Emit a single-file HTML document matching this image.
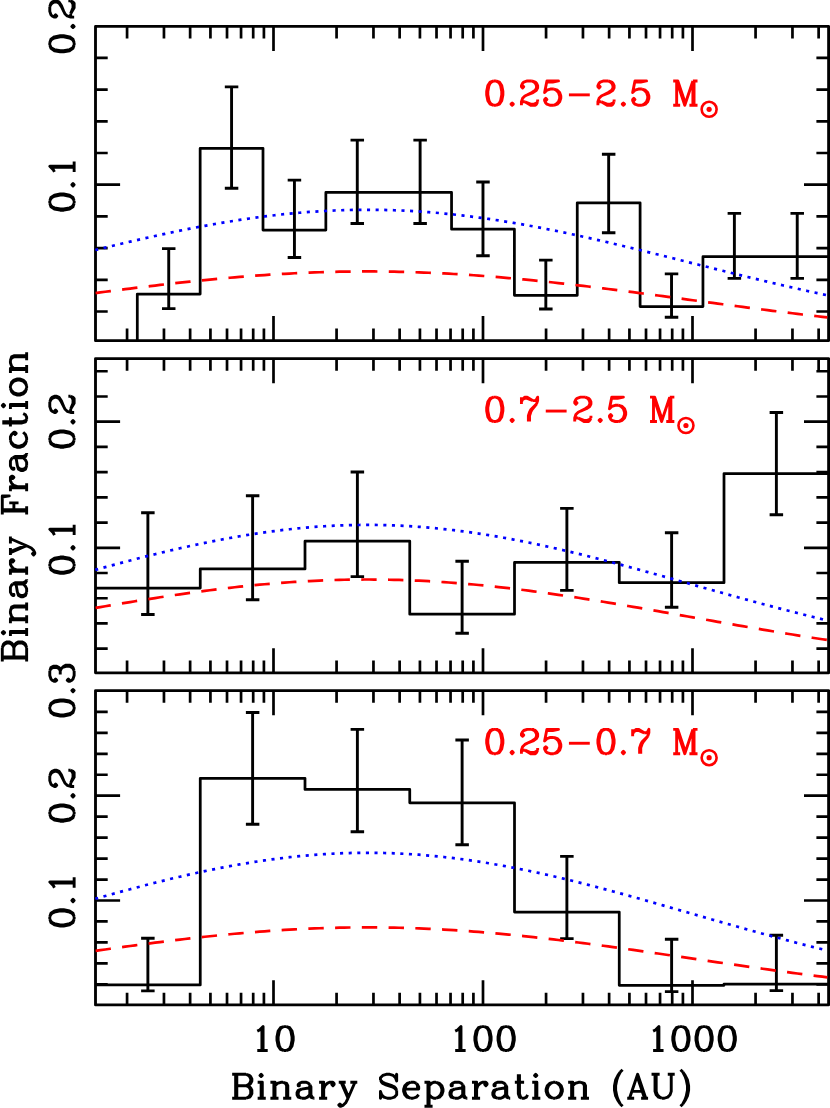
<!DOCTYPE html>
<html><head><meta charset="utf-8"><title>Binary Fraction vs Separation</title>
<style>html,body{margin:0;padding:0;background:#fff;font-family:"Liberation Sans",sans-serif}svg{display:block}.t{fill:none;stroke-linejoin:round;stroke-linecap:butt}</style></head>
<body><svg width="830" height="1108" viewBox="0 0 830 1108" style="display:block"><defs><g><path id="g0" d="M9,-21 6,-20 4,-17 3,-12 3,-9 4,-4 6,-1 9,0M9,-21 7,-20 6,-19 5,-17 4,-12 4,-9 5,-4 6,-2 7,-1 9,0M9,-21 11,-21M9,0 11,0M11,-21 14,-20 16,-17 17,-12 17,-9 16,-4 14,-1 11,0M11,-21 13,-20 14,-19 15,-17 16,-12 16,-9 15,-4 14,-2 13,-1 11,0"/><path id="g1" d="M5,-2 4,-1 5,0 6,-1Z"/><path id="g2" d="M3,-2 4,-3 6,-3M3,0 3,-3 4,-6 6,-8 12,-11 15,-13 16,-15 16,-17 15,-19 14,-20 12,-21M4,-17 5,-16 4,-15 3,-16 3,-17 4,-19 5,-20 8,-21 12,-21M6,-3 11,0 15,0 16,-1 17,-3M6,-3 11,-1 14,-1 16,-2 17,-3M8,-9 13,-11 16,-13 17,-15 17,-17 16,-19 15,-20 12,-21M17,-5 17,-3"/><path id="g3" d="M4,-4 5,-5 4,-6 3,-5 3,-4 4,-2 5,-1 8,0 11,0M5,-20 10,-20 15,-21 5,-21 3,-11 5,-13 8,-14 11,-14M11,-14 14,-13 16,-11 17,-8 17,-6 16,-3 14,-1 11,0M11,-14 13,-13 15,-11 16,-8 16,-6 15,-3 13,-1 11,0"/><path id="g4" d="M4,-9 22,-9"/><path id="g5" d="M2,-21 6,-21 12,-3M2,0 8,0M5,0 5,-21 12,0 19,-21M16,0 23,0M19,-21 19,0M19,-21 23,-21M20,-21 20,0"/><path id="g6" d="M3,-21 3,-15M3,-17 4,-19M4,-19 6,-21 8,-21 13,-18M4,-19 6,-20 8,-20 13,-18M9,0 9,-5 10,-8 11,-10 16,-15M10,0 10,-5 11,-8 12,-10 16,-15M13,-18 15,-18 16,-19 17,-21 17,-18 16,-15"/><path id="g7" d="M6,-17 8,-18 11,-21 11,0M6,0 15,0M10,-20 10,0"/><path id="g8" d="M2,-21 14,-21M2,0 14,0M5,-21 5,0M6,-21 6,0M6,-11 14,-11M14,-21 17,-20 18,-19 19,-17 19,-15 18,-13 17,-12 14,-11M14,-21 16,-20 17,-19 18,-17 18,-15 17,-13 16,-12 14,-11M14,-11 17,-10 18,-9 19,-7 19,-4 18,-2 17,-1 14,0M14,-11 16,-10 17,-9 18,-7 18,-4 17,-2 16,-1 14,0"/><path id="g9" d="M2,-14 6,-14 6,0M2,0 9,0M5,-14 5,0M5,-21 4,-20 5,-19 6,-20Z"/><path id="g10" d="M2,-14 6,-14 6,0M2,0 9,0M5,-14 5,0M6,-11 8,-13 11,-14 13,-14M13,-14 16,-13 17,-11 17,0M13,-14 15,-13 16,-11 16,0M13,0 20,0"/><path id="g11" d="M5,-12 5,-11 4,-11 4,-12 5,-13 7,-14 11,-14 13,-13 14,-12M7,-8 13,-9 14,-10M7,-8 4,-7 3,-5 3,-3 4,-1 7,0M7,-8 5,-7 4,-5 4,-3 5,-1 7,0M7,0 10,0 12,-1 14,-3M14,-12 14,-3M14,-12 15,-10 15,-3 16,-1 17,0M14,-3 15,-1 17,0M17,0 18,0"/><path id="g12" d="M2,-14 6,-14 6,0M2,0 9,0M5,-14 5,0M6,-8 7,-11 9,-13 11,-14 14,-14 15,-13 15,-12 14,-11 13,-12 14,-13"/><path id="g13" d="M2,-14 8,-14M4,-14 10,0M4,6 3,5 2,6 3,7 4,7 6,6 8,4 10,0M5,-14 10,-2M10,0 16,-14M12,-14 18,-14"/><path id="g14" d="M3,-16 5,-14 7,-13 13,-11 15,-10 16,-9 17,-7M3,-16 4,-14 5,-13 7,-12 13,-10 15,-9 17,-7M3,-16 3,-18 5,-20 8,-21 11,-21 14,-20 16,-18M4,-3 3,-6 3,0ZM4,-3 6,-1 9,0 12,0 15,-1 17,-3 17,-7M16,-18 17,-21 17,-15Z"/><path id="g15" d="M4,-8 16,-8 16,-10 15,-12 14,-13M4,-8 5,-11 7,-13 9,-14M4,-8 4,-6 5,-3 7,-1 9,0M9,-14 6,-13 4,-11 3,-8 3,-6 4,-3 6,-1 9,0M9,-14 12,-14 14,-13M9,0 11,0 14,-1 16,-3M14,-13 15,-11 15,-8"/><path id="g16" d="M2,-14 6,-14 6,7M2,7 9,7M5,-14 5,7M6,-11 8,-13 10,-14 12,-14M6,-3 8,-1 10,0 12,0M12,-14 15,-13 17,-11 18,-8 18,-6 17,-3 15,-1 12,0M12,-14 14,-13 16,-11 17,-8 17,-6 16,-3 14,-1 12,0"/><path id="g17" d="M2,-14 10,-14M5,-21 5,-4 6,-1 8,0M6,-21 6,-4 7,-1 8,0M8,0 10,0 12,-1 13,-3"/><path id="g18" d="M9,-14 6,-13 4,-11 3,-8 3,-6 4,-3 6,-1 9,0M9,-14 7,-13 5,-11 4,-8 4,-6 5,-3 7,-1 9,0M9,-14 11,-14M9,0 11,0M11,-14 14,-13 16,-11 17,-8 17,-6 16,-3 14,-1 11,0M11,-14 13,-13 15,-11 16,-8 16,-6 15,-3 13,-1 11,0"/><path id="g19" d="M9,-23 7,-19 6,-16 5,-11 5,-7 6,-2 7,1 9,5M9,-23 7,-20 5,-16 4,-11 4,-7 5,-2 7,2 9,5M9,-23 11,-25M9,5 11,7"/><path id="g20" d="M1,0 7,0M3,0 10,-21 17,0M5,-6 14,-6M10,-18 16,0M13,0 19,0"/><path id="g21" d="M2,-21 9,-21M5,-21 5,-6 6,-3 8,-1 11,0M6,-21 6,-6 7,-3 9,-1 11,0M11,0 13,0 16,-1 18,-3 19,-6 19,-21M16,-21 22,-21"/><path id="g22" d="M3,-25 5,-23M3,7 5,5M5,-23 7,-19 8,-16 9,-11 9,-7 8,-2 7,1 5,5M5,-23 7,-20 9,-16 10,-11 10,-7 9,-2 7,2 5,5"/><path id="g23" d="M4,-17 5,-16 4,-15 3,-16 3,-17 4,-19 5,-20 8,-21 12,-21M4,-4 5,-5 4,-6 3,-5 3,-4 4,-2 5,-1 8,0 12,0M9,-12 12,-12M12,-21 15,-20 16,-18 16,-15 15,-13 12,-12M12,-21 14,-20 15,-18 15,-15 14,-13 12,-12M12,-12 14,-11 16,-9 17,-7 17,-4 16,-2 15,-1 12,0M12,0 14,-1 15,-2 16,-4 16,-7 15,-10"/><path id="g24" d="M2,-21 18,-21 18,-15 17,-21M2,0 9,0M5,-21 5,0M6,-21 6,0M6,-11 12,-11M12,-15 12,-7"/><path id="g25" d="M9,-14 6,-13 4,-11 3,-8 3,-6 4,-3 6,-1 9,0M9,-14 12,-14 14,-13 16,-11 16,-10 15,-9 14,-10 15,-11M9,-14 7,-13 5,-11 4,-8 4,-6 5,-3 7,-1 9,0M9,0 11,0 14,-1 16,-3"/></g></defs><rect width="830" height="1108" fill="#fff"/><path d="M137.3,340.7 L137.3,294.1 L200.15,294.1 L200.15,148.3 L263,148.3 L263,230 L325.85,230 L325.85,192.4 L388.7,192.4 L388.7,192.4 L451.55,192.4 L451.55,229.2 L514.4,229.2 L514.4,295.3 L577.25,295.3 L577.25,202.8 L640.1,202.8 L640.1,306.6 L702.95,306.6 L702.95,256.7 L765.8,256.7 L765.8,256.7 L828.6,256.7" fill="none" stroke="#000" stroke-width="2.75" stroke-linejoin="round"/>
<path d="M168.73,248.6V308.6M161.98,248.6H175.48M161.98,308.6H175.48M231.57,86.9V188.3M224.82,86.9H238.32M224.82,188.3H238.32M294.43,180.1V257.5M287.68,180.1H301.18M287.68,257.5H301.18M357.28,140.1V223.5M350.53,140.1H364.03M350.53,223.5H364.03M420.12,140.1V223.5M413.38,140.1H426.88M413.38,223.5H426.88M482.98,182V255.8M476.23,182H489.73M476.23,255.8H489.73M545.83,260.1V309M539.08,260.1H552.58M539.08,309H552.58M608.67,154.3V232.7M601.92,154.3H615.42M601.92,232.7H615.42M671.53,273.9V317.2M664.78,273.9H678.28M664.78,317.2H678.28M734.38,213.4V278.4M727.62,213.4H741.12M727.62,278.4H741.12M797.23,213.4V278.4M790.48,213.4H803.98M790.48,278.4H803.98" fill="none" stroke="#000" stroke-width="2.9"/>
<path d="M127.07,26.4v12.2M127.07,340.7v-12.2M163.96,26.4v12.2M163.96,340.7v-12.2M190.13,26.4v12.2M190.13,340.7v-12.2M210.43,26.4v12.2M210.43,340.7v-12.2M227.02,26.4v12.2M227.02,340.7v-12.2M241.05,26.4v12.2M241.05,340.7v-12.2M253.2,26.4v12.2M253.2,340.7v-12.2M263.91,26.4v12.2M263.91,340.7v-12.2M273.5,26.4v24.6M273.5,340.7v-24.6M336.57,26.4v12.2M336.57,340.7v-12.2M373.46,26.4v12.2M373.46,340.7v-12.2M399.63,26.4v12.2M399.63,340.7v-12.2M419.93,26.4v12.2M419.93,340.7v-12.2M436.52,26.4v12.2M436.52,340.7v-12.2M450.55,26.4v12.2M450.55,340.7v-12.2M462.7,26.4v12.2M462.7,340.7v-12.2M473.41,26.4v12.2M473.41,340.7v-12.2M483,26.4v24.6M483,340.7v-24.6M546.07,26.4v12.2M546.07,340.7v-12.2M582.96,26.4v12.2M582.96,340.7v-12.2M609.13,26.4v12.2M609.13,340.7v-12.2M629.43,26.4v12.2M629.43,340.7v-12.2M646.02,26.4v12.2M646.02,340.7v-12.2M660.05,26.4v12.2M660.05,340.7v-12.2M672.2,26.4v12.2M672.2,340.7v-12.2M682.91,26.4v12.2M682.91,340.7v-12.2M692.5,26.4v24.6M692.5,340.7v-24.6M755.57,26.4v12.2M755.57,340.7v-12.2M792.46,26.4v12.2M792.46,340.7v-12.2M818.63,26.4v12.2M818.63,340.7v-12.2M95.5,57.9h12.2M828.6,57.9h-12.2M95.5,89.6h12.2M828.6,89.6h-12.2M95.5,121.3h12.2M828.6,121.3h-12.2M95.5,153h12.2M828.6,153h-12.2M95.5,184.7h24.6M828.6,184.7h-24.6M95.5,216.4h12.2M828.6,216.4h-12.2M95.5,248.1h12.2M828.6,248.1h-12.2M95.5,279.8h12.2M828.6,279.8h-12.2M95.5,311.5h12.2M828.6,311.5h-12.2" fill="none" stroke="#000" stroke-width="2.7"/>
<rect x="95.5" y="26.4" width="733.1" height="314.3" fill="none" stroke="#000" stroke-width="2.85" stroke-linejoin="round"/>
<path d="M95.3,293.09 L100.28,292.43 L105.26,291.78 L110.24,291.13 L115.22,290.49 L120.2,289.85 L125.18,289.21 L130.16,288.59 L135.14,287.96 L140.12,287.35 L145.1,286.74 L150.08,286.14 L155.06,285.54 L160.03,284.95 L165.01,284.37 L169.99,283.8 L174.97,283.24 L179.95,282.69 L184.93,282.15 L189.91,281.61 L194.89,281.09 L199.87,280.58 L204.85,280.08 L209.83,279.59 L214.81,279.11 L219.79,278.64 L224.77,278.19 L229.75,277.75 L234.73,277.32 L239.71,276.9 L244.69,276.5 L249.67,276.11 L254.65,275.74 L259.63,275.38 L264.61,275.03 L269.59,274.7 L274.57,274.39 L279.54,274.08 L284.52,273.8 L289.5,273.53 L294.48,273.27 L299.46,273.04 L304.44,272.81 L309.42,272.61 L314.4,272.42 L319.38,272.24 L324.36,272.09 L329.34,271.95 L334.32,271.82 L339.3,271.72 L344.28,271.63 L349.26,271.56 L354.24,271.5 L359.22,271.47 L364.2,271.45 L369.18,271.44 L374.16,271.46 L379.14,271.49 L384.12,271.54 L389.1,271.6 L394.08,271.69 L399.06,271.79 L404.03,271.9 L409.01,272.04 L413.99,272.19 L418.97,272.36 L423.95,272.54 L428.93,272.74 L433.91,272.96 L438.89,273.19 L443.87,273.44 L448.85,273.7 L453.83,273.99 L458.81,274.28 L463.79,274.59 L468.77,274.92 L473.75,275.26 L478.73,275.61 L483.71,275.98 L488.69,276.37 L493.67,276.77 L498.65,277.18 L503.63,277.6 L508.61,278.04 L513.59,278.49 L518.57,278.95 L523.54,279.42 L528.52,279.91 L533.5,280.41 L538.48,280.92 L543.46,281.44 L548.44,281.96 L553.42,282.5 L558.4,283.05 L563.38,283.61 L568.36,284.18 L573.34,284.76 L578.32,285.34 L583.3,285.93 L588.28,286.53 L593.26,287.14 L598.24,287.75 L603.22,288.37 L608.2,289 L613.18,289.63 L618.16,290.27 L623.14,290.91 L628.12,291.56 L633.1,292.21 L638.08,292.87 L643.06,293.53 L648.03,294.19 L653.01,294.85 L657.99,295.52 L662.97,296.19 L667.95,296.86 L672.93,297.53 L677.91,298.21 L682.89,298.88 L687.87,299.55 L692.85,300.23 L697.83,300.9 L702.81,301.58 L707.79,302.25 L712.77,302.92 L717.75,303.59 L722.73,304.26 L727.71,304.93 L732.69,305.59 L737.67,306.25 L742.65,306.91 L747.63,307.57 L752.61,308.22 L757.59,308.87 L762.57,309.51 L767.54,310.15 L772.52,310.79 L777.5,311.42 L782.48,312.04 L787.46,312.66 L792.44,313.28 L797.42,313.89 L802.4,314.5 L807.38,315.1 L812.36,315.69 L817.34,316.28 L822.32,316.86 L827.3,317.43" fill="none" stroke="#f00" stroke-width="2.7" stroke-dasharray="15.4 11.35" stroke-dashoffset="-0.3"/>
<path d="M95.3,250.03 L100.28,248.81 L105.26,247.6 L110.24,246.39 L115.22,245.19 L120.2,244.01 L125.18,242.83 L130.16,241.66 L135.14,240.5 L140.12,239.36 L145.1,238.22 L150.08,237.1 L155.06,236 L160.03,234.9 L165.01,233.83 L169.99,232.77 L174.97,231.72 L179.95,230.69 L184.93,229.69 L189.91,228.69 L194.89,227.72 L199.87,226.77 L204.85,225.84 L209.83,224.93 L214.81,224.04 L219.79,223.17 L224.77,222.33 L229.75,221.51 L234.73,220.71 L239.71,219.94 L244.69,219.19 L249.67,218.47 L254.65,217.77 L259.63,217.1 L264.61,216.46 L269.59,215.84 L274.57,215.25 L279.54,214.69 L284.52,214.16 L289.5,213.66 L294.48,213.19 L299.46,212.74 L304.44,212.33 L309.42,211.95 L314.4,211.59 L319.38,211.27 L324.36,210.98 L329.34,210.72 L334.32,210.49 L339.3,210.3 L344.28,210.13 L349.26,210 L354.24,209.9 L359.22,209.83 L364.2,209.79 L369.18,209.78 L374.16,209.81 L379.14,209.87 L384.12,209.96 L389.1,210.08 L394.08,210.24 L399.06,210.42 L404.03,210.64 L409.01,210.89 L413.99,211.17 L418.97,211.48 L423.95,211.82 L428.93,212.2 L433.91,212.6 L438.89,213.03 L443.87,213.5 L448.85,213.99 L453.83,214.51 L458.81,215.06 L463.79,215.64 L468.77,216.25 L473.75,216.88 L478.73,217.54 L483.71,218.23 L488.69,218.94 L493.67,219.68 L498.65,220.44 L503.63,221.23 L508.61,222.05 L513.59,222.88 L518.57,223.74 L523.54,224.62 L528.52,225.53 L533.5,226.45 L538.48,227.4 L543.46,228.36 L548.44,229.35 L553.42,230.35 L558.4,231.37 L563.38,232.41 L568.36,233.46 L573.34,234.54 L578.32,235.62 L583.3,236.72 L588.28,237.84 L593.26,238.97 L598.24,240.11 L603.22,241.26 L608.2,242.43 L613.18,243.6 L618.16,244.79 L623.14,245.98 L628.12,247.19 L633.1,248.4 L638.08,249.62 L643.06,250.84 L648.03,252.07 L653.01,253.31 L657.99,254.55 L662.97,255.79 L667.95,257.04 L672.93,258.29 L677.91,259.54 L682.89,260.8 L687.87,262.05 L692.85,263.3 L697.83,264.56 L702.81,265.81 L707.79,267.06 L712.77,268.31 L717.75,269.56 L722.73,270.8 L727.71,272.04 L732.69,273.27 L737.67,274.5 L742.65,275.73 L747.63,276.94 L752.61,278.16 L757.59,279.36 L762.57,280.56 L767.54,281.75 L772.52,282.93 L777.5,284.11 L782.48,285.27 L787.46,286.42 L792.44,287.57 L797.42,288.71 L802.4,289.83 L807.38,290.95 L812.36,292.05 L817.34,293.14 L822.32,294.22 L827.3,295.29" fill="none" stroke="#00f" stroke-width="2.7" stroke-dasharray="3.1 5.51" stroke-dashoffset="0.15"/>
<g class="t" stroke="#f00" stroke-width="2.502" transform="translate(483.2,105.3) scale(1.1585,1.16)"><use href="#g0" x="0"/><use href="#g1" x="20"/><use href="#g2" x="30"/><use href="#g3" x="50"/><use href="#g4" x="70"/><use href="#g2" x="96"/><use href="#g1" x="116"/><use href="#g3" x="126"/><use href="#g5" x="162"/></g>
<path d="M95.5,588 L200.25,588 L200.25,568.9 L305,568.9 L305,541.2 L409.75,541.2 L409.75,614.2 L514.5,614.2 L514.5,562.4 L619.25,562.4 L619.25,582.7 L724,582.7 L724,473.5 L828.6,473.5" fill="none" stroke="#000" stroke-width="2.75" stroke-linejoin="round"/>
<path d="M147.88,512.8V614.5M141.12,512.8H154.62M141.12,614.5H154.62M252.62,495.7V599.8M245.88,495.7H259.38M245.88,599.8H259.38M357.38,472V576.6M350.62,472H364.12M350.62,576.6H364.12M462.12,561.2V633.3M455.38,561.2H468.88M455.38,633.3H468.88M566.88,508.4V590.4M560.12,508.4H573.62M560.12,590.4H573.62M671.62,532.8V607.2M664.88,532.8H678.38M664.88,607.2H678.38M776.38,412.5V514.7M769.62,412.5H783.12M769.62,514.7H783.12" fill="none" stroke="#000" stroke-width="2.9"/>
<path d="M127.07,358.6v12.2M127.07,672.8v-12.2M163.96,358.6v12.2M163.96,672.8v-12.2M190.13,358.6v12.2M190.13,672.8v-12.2M210.43,358.6v12.2M210.43,672.8v-12.2M227.02,358.6v12.2M227.02,672.8v-12.2M241.05,358.6v12.2M241.05,672.8v-12.2M253.2,358.6v12.2M253.2,672.8v-12.2M263.91,358.6v12.2M263.91,672.8v-12.2M273.5,358.6v24.6M273.5,672.8v-24.6M336.57,358.6v12.2M336.57,672.8v-12.2M373.46,358.6v12.2M373.46,672.8v-12.2M399.63,358.6v12.2M399.63,672.8v-12.2M419.93,358.6v12.2M419.93,672.8v-12.2M436.52,358.6v12.2M436.52,672.8v-12.2M450.55,358.6v12.2M450.55,672.8v-12.2M462.7,358.6v12.2M462.7,672.8v-12.2M473.41,358.6v12.2M473.41,672.8v-12.2M483,358.6v24.6M483,672.8v-24.6M546.07,358.6v12.2M546.07,672.8v-12.2M582.96,358.6v12.2M582.96,672.8v-12.2M609.13,358.6v12.2M609.13,672.8v-12.2M629.43,358.6v12.2M629.43,672.8v-12.2M646.02,358.6v12.2M646.02,672.8v-12.2M660.05,358.6v12.2M660.05,672.8v-12.2M672.2,358.6v12.2M672.2,672.8v-12.2M682.91,358.6v12.2M682.91,672.8v-12.2M692.5,358.6v24.6M692.5,672.8v-24.6M755.57,358.6v12.2M755.57,672.8v-12.2M792.46,358.6v12.2M792.46,672.8v-12.2M818.63,358.6v12.2M818.63,672.8v-12.2M95.5,371.26h12.2M828.6,371.26h-12.2M95.5,396.48h12.2M828.6,396.48h-12.2M95.5,421.7h24.6M828.6,421.7h-24.6M95.5,446.92h12.2M828.6,446.92h-12.2M95.5,472.14h12.2M828.6,472.14h-12.2M95.5,497.36h12.2M828.6,497.36h-12.2M95.5,522.58h12.2M828.6,522.58h-12.2M95.5,547.8h24.6M828.6,547.8h-24.6M95.5,573.02h12.2M828.6,573.02h-12.2M95.5,598.24h12.2M828.6,598.24h-12.2M95.5,623.46h12.2M828.6,623.46h-12.2M95.5,648.68h12.2M828.6,648.68h-12.2" fill="none" stroke="#000" stroke-width="2.7"/>
<rect x="95.5" y="358.6" width="733.1" height="314.2" fill="none" stroke="#000" stroke-width="2.85" stroke-linejoin="round"/>
<path d="M95.3,607.99 L100.28,607.12 L105.26,606.27 L110.24,605.41 L115.22,604.57 L120.2,603.73 L125.18,602.89 L130.16,602.06 L135.14,601.25 L140.12,600.44 L145.1,599.63 L150.08,598.84 L155.06,598.06 L160.03,597.29 L165.01,596.52 L169.99,595.77 L174.97,595.03 L179.95,594.31 L184.93,593.59 L189.91,592.89 L194.89,592.21 L199.87,591.53 L204.85,590.87 L209.83,590.23 L214.81,589.6 L219.79,588.99 L224.77,588.39 L229.75,587.81 L234.73,587.24 L239.71,586.7 L244.69,586.17 L249.67,585.66 L254.65,585.17 L259.63,584.69 L264.61,584.24 L269.59,583.8 L274.57,583.38 L279.54,582.99 L284.52,582.61 L289.5,582.26 L294.48,581.92 L299.46,581.61 L304.44,581.32 L309.42,581.05 L314.4,580.8 L319.38,580.57 L324.36,580.36 L329.34,580.18 L334.32,580.02 L339.3,579.88 L344.28,579.76 L349.26,579.67 L354.24,579.59 L359.22,579.55 L364.2,579.52 L369.18,579.52 L374.16,579.53 L379.14,579.58 L384.12,579.64 L389.1,579.73 L394.08,579.84 L399.06,579.97 L404.03,580.12 L409.01,580.3 L413.99,580.5 L418.97,580.72 L423.95,580.96 L428.93,581.22 L433.91,581.51 L438.89,581.81 L443.87,582.14 L448.85,582.49 L453.83,582.86 L458.81,583.25 L463.79,583.66 L468.77,584.09 L473.75,584.53 L478.73,585 L483.71,585.49 L488.69,585.99 L493.67,586.52 L498.65,587.06 L503.63,587.61 L508.61,588.19 L513.59,588.78 L518.57,589.39 L523.54,590.01 L528.52,590.65 L533.5,591.31 L538.48,591.97 L543.46,592.66 L548.44,593.35 L553.42,594.06 L558.4,594.79 L563.38,595.52 L568.36,596.27 L573.34,597.03 L578.32,597.79 L583.3,598.57 L588.28,599.36 L593.26,600.16 L598.24,600.97 L603.22,601.78 L608.2,602.61 L613.18,603.44 L618.16,604.28 L623.14,605.12 L628.12,605.98 L633.1,606.83 L638.08,607.69 L643.06,608.56 L648.03,609.43 L653.01,610.31 L657.99,611.18 L662.97,612.06 L667.95,612.95 L672.93,613.83 L677.91,614.72 L682.89,615.6 L687.87,616.49 L692.85,617.38 L697.83,618.26 L702.81,619.15 L707.79,620.04 L712.77,620.92 L717.75,621.8 L722.73,622.68 L727.71,623.56 L732.69,624.43 L737.67,625.3 L742.65,626.17 L747.63,627.03 L752.61,627.89 L757.59,628.74 L762.57,629.59 L767.54,630.43 L772.52,631.26 L777.5,632.09 L782.48,632.92 L787.46,633.73 L792.44,634.54 L797.42,635.35 L802.4,636.14 L807.38,636.93 L812.36,637.71 L817.34,638.49 L822.32,639.25 L827.3,640.01" fill="none" stroke="#f00" stroke-width="2.7" stroke-dasharray="15.4 11.35" stroke-dashoffset="-0.3"/>
<path d="M95.3,569.87 L100.28,568.51 L105.26,567.15 L110.24,565.81 L115.22,564.47 L120.2,563.14 L125.18,561.83 L130.16,560.52 L135.14,559.23 L140.12,557.95 L145.1,556.68 L150.08,555.43 L155.06,554.2 L160.03,552.98 L165.01,551.78 L169.99,550.59 L174.97,549.43 L179.95,548.28 L184.93,547.15 L189.91,546.05 L194.89,544.96 L199.87,543.9 L204.85,542.86 L209.83,541.84 L214.81,540.85 L219.79,539.88 L224.77,538.94 L229.75,538.02 L234.73,537.13 L239.71,536.27 L244.69,535.43 L249.67,534.63 L254.65,533.85 L259.63,533.1 L264.61,532.38 L269.59,531.7 L274.57,531.04 L279.54,530.41 L284.52,529.82 L289.5,529.26 L294.48,528.73 L299.46,528.24 L304.44,527.77 L309.42,527.35 L314.4,526.95 L319.38,526.59 L324.36,526.27 L329.34,525.98 L334.32,525.72 L339.3,525.5 L344.28,525.32 L349.26,525.17 L354.24,525.06 L359.22,524.98 L364.2,524.94 L369.18,524.93 L374.16,524.96 L379.14,525.03 L384.12,525.13 L389.1,525.26 L394.08,525.44 L399.06,525.64 L404.03,525.89 L409.01,526.17 L413.99,526.48 L418.97,526.83 L423.95,527.21 L428.93,527.62 L433.91,528.08 L438.89,528.56 L443.87,529.08 L448.85,529.63 L453.83,530.21 L458.81,530.82 L463.79,531.47 L468.77,532.15 L473.75,532.85 L478.73,533.59 L483.71,534.36 L488.69,535.16 L493.67,535.98 L498.65,536.83 L503.63,537.71 L508.61,538.62 L513.59,539.56 L518.57,540.52 L523.54,541.5 L528.52,542.51 L533.5,543.54 L538.48,544.6 L543.46,545.67 L548.44,546.77 L553.42,547.89 L558.4,549.03 L563.38,550.19 L568.36,551.37 L573.34,552.57 L578.32,553.78 L583.3,555.01 L588.28,556.26 L593.26,557.52 L598.24,558.79 L603.22,560.08 L608.2,561.38 L613.18,562.69 L618.16,564.02 L623.14,565.35 L628.12,566.69 L633.1,568.05 L638.08,569.41 L643.06,570.77 L648.03,572.15 L653.01,573.53 L657.99,574.91 L662.97,576.3 L667.95,577.7 L672.93,579.09 L677.91,580.49 L682.89,581.89 L687.87,583.29 L692.85,584.69 L697.83,586.09 L702.81,587.49 L707.79,588.89 L712.77,590.28 L717.75,591.67 L722.73,593.06 L727.71,594.44 L732.69,595.82 L737.67,597.19 L742.65,598.56 L747.63,599.92 L752.61,601.27 L757.59,602.62 L762.57,603.96 L767.54,605.29 L772.52,606.61 L777.5,607.92 L782.48,609.22 L787.46,610.51 L792.44,611.79 L797.42,613.05 L802.4,614.31 L807.38,615.55 L812.36,616.79 L817.34,618.01 L822.32,619.21 L827.3,620.41" fill="none" stroke="#00f" stroke-width="2.7" stroke-dasharray="3.1 5.51" stroke-dashoffset="0.15"/>
<g class="t" stroke="#f00" stroke-width="2.502" transform="translate(483.2,421.5) scale(1.1585,1.16)"><use href="#g0" x="0"/><use href="#g1" x="20"/><use href="#g6" x="30"/><use href="#g4" x="50"/><use href="#g2" x="76"/><use href="#g1" x="96"/><use href="#g3" x="106"/><use href="#g5" x="142"/></g>
<path d="M95.5,984.9 L200.25,984.9 L200.25,778.3 L305,778.3 L305,789.4 L409.75,789.4 L409.75,802.8 L514.5,802.8 L514.5,912 L619.25,912 L619.25,985.3 L724,985.3 L724,984.1 L828.6,984.1" fill="none" stroke="#000" stroke-width="2.75" stroke-linejoin="round"/>
<path d="M147.88,938.3V990.9M141.12,938.3H154.62M141.12,990.9H154.62M252.62,712.5V824.3M245.88,712.5H259.38M245.88,824.3H259.38M357.38,729.4V831.8M350.62,729.4H364.12M350.62,831.8H364.12M462.12,740V844.8M455.38,740H468.88M455.38,844.8H468.88M566.88,856.4V938.6M560.12,856.4H573.62M560.12,938.6H573.62M671.62,939.3V991.6M664.88,939.3H678.38M664.88,991.6H678.38M776.38,935.2V990.6M769.62,935.2H783.12M769.62,990.6H783.12" fill="none" stroke="#000" stroke-width="2.9"/>
<path d="M127.07,690.6v12.2M127.07,1004.9v-12.2M163.96,690.6v12.2M163.96,1004.9v-12.2M190.13,690.6v12.2M190.13,1004.9v-12.2M210.43,690.6v12.2M210.43,1004.9v-12.2M227.02,690.6v12.2M227.02,1004.9v-12.2M241.05,690.6v12.2M241.05,1004.9v-12.2M253.2,690.6v12.2M253.2,1004.9v-12.2M263.91,690.6v12.2M263.91,1004.9v-12.2M273.5,690.6v24.6M273.5,1004.9v-24.6M336.57,690.6v12.2M336.57,1004.9v-12.2M373.46,690.6v12.2M373.46,1004.9v-12.2M399.63,690.6v12.2M399.63,1004.9v-12.2M419.93,690.6v12.2M419.93,1004.9v-12.2M436.52,690.6v12.2M436.52,1004.9v-12.2M450.55,690.6v12.2M450.55,1004.9v-12.2M462.7,690.6v12.2M462.7,1004.9v-12.2M473.41,690.6v12.2M473.41,1004.9v-12.2M483,690.6v24.6M483,1004.9v-24.6M546.07,690.6v12.2M546.07,1004.9v-12.2M582.96,690.6v12.2M582.96,1004.9v-12.2M609.13,690.6v12.2M609.13,1004.9v-12.2M629.43,690.6v12.2M629.43,1004.9v-12.2M646.02,690.6v12.2M646.02,1004.9v-12.2M660.05,690.6v12.2M660.05,1004.9v-12.2M672.2,690.6v12.2M672.2,1004.9v-12.2M682.91,690.6v12.2M682.91,1004.9v-12.2M692.5,690.6v24.6M692.5,1004.9v-24.6M755.57,690.6v12.2M755.57,1004.9v-12.2M792.46,690.6v12.2M792.46,1004.9v-12.2M818.63,690.6v12.2M818.63,1004.9v-12.2M95.5,711.86h12.2M828.6,711.86h-12.2M95.5,732.82h12.2M828.6,732.82h-12.2M95.5,753.78h12.2M828.6,753.78h-12.2M95.5,774.74h12.2M828.6,774.74h-12.2M95.5,795.7h24.6M828.6,795.7h-24.6M95.5,816.66h12.2M828.6,816.66h-12.2M95.5,837.62h12.2M828.6,837.62h-12.2M95.5,858.58h12.2M828.6,858.58h-12.2M95.5,879.54h12.2M828.6,879.54h-12.2M95.5,900.5h24.6M828.6,900.5h-24.6M95.5,921.46h12.2M828.6,921.46h-12.2M95.5,942.42h12.2M828.6,942.42h-12.2M95.5,963.38h12.2M828.6,963.38h-12.2M95.5,984.34h12.2M828.6,984.34h-12.2" fill="none" stroke="#000" stroke-width="2.7"/>
<rect x="95.5" y="690.6" width="733.1" height="314.3" fill="none" stroke="#000" stroke-width="2.85" stroke-linejoin="round"/>
<path d="M95.3,950.9 L100.28,950.18 L105.26,949.47 L110.24,948.77 L115.22,948.07 L120.2,947.38 L125.18,946.69 L130.16,946.01 L135.14,945.33 L140.12,944.66 L145.1,944 L150.08,943.34 L155.06,942.7 L160.03,942.06 L165.01,941.43 L169.99,940.81 L174.97,940.2 L179.95,939.6 L184.93,939.01 L189.91,938.44 L194.89,937.87 L199.87,937.31 L204.85,936.77 L209.83,936.24 L214.81,935.72 L219.79,935.21 L224.77,934.72 L229.75,934.24 L234.73,933.77 L239.71,933.32 L244.69,932.89 L249.67,932.46 L254.65,932.06 L259.63,931.67 L264.61,931.29 L269.59,930.93 L274.57,930.59 L279.54,930.26 L284.52,929.95 L289.5,929.66 L294.48,929.38 L299.46,929.12 L304.44,928.88 L309.42,928.66 L314.4,928.45 L319.38,928.26 L324.36,928.09 L329.34,927.94 L334.32,927.81 L339.3,927.69 L344.28,927.6 L349.26,927.52 L354.24,927.46 L359.22,927.42 L364.2,927.4 L369.18,927.39 L374.16,927.41 L379.14,927.44 L384.12,927.5 L389.1,927.57 L394.08,927.66 L399.06,927.77 L404.03,927.89 L409.01,928.04 L413.99,928.2 L418.97,928.38 L423.95,928.58 L428.93,928.8 L433.91,929.04 L438.89,929.29 L443.87,929.56 L448.85,929.85 L453.83,930.15 L458.81,930.47 L463.79,930.81 L468.77,931.17 L473.75,931.54 L478.73,931.92 L483.71,932.32 L488.69,932.74 L493.67,933.17 L498.65,933.62 L503.63,934.08 L508.61,934.55 L513.59,935.04 L518.57,935.54 L523.54,936.06 L528.52,936.59 L533.5,937.13 L538.48,937.68 L543.46,938.24 L548.44,938.82 L553.42,939.4 L558.4,940 L563.38,940.6 L568.36,941.22 L573.34,941.85 L578.32,942.48 L583.3,943.12 L588.28,943.78 L593.26,944.43 L598.24,945.1 L603.22,945.77 L608.2,946.46 L613.18,947.14 L618.16,947.83 L623.14,948.53 L628.12,949.23 L633.1,949.94 L638.08,950.65 L643.06,951.37 L648.03,952.09 L653.01,952.81 L657.99,953.53 L662.97,954.26 L667.95,954.99 L672.93,955.72 L677.91,956.45 L682.89,957.18 L687.87,957.91 L692.85,958.65 L697.83,959.38 L702.81,960.11 L707.79,960.84 L712.77,961.57 L717.75,962.3 L722.73,963.02 L727.71,963.75 L732.69,964.47 L737.67,965.18 L742.65,965.9 L747.63,966.61 L752.61,967.32 L757.59,968.02 L762.57,968.72 L767.54,969.42 L772.52,970.11 L777.5,970.79 L782.48,971.47 L787.46,972.15 L792.44,972.82 L797.42,973.48 L802.4,974.14 L807.38,974.79 L812.36,975.43 L817.34,976.07 L822.32,976.7 L827.3,977.32" fill="none" stroke="#f00" stroke-width="2.7" stroke-dasharray="15.4 11.35" stroke-dashoffset="-0.3"/>
<path d="M95.3,898.79 L100.28,897.4 L105.26,896.01 L110.24,894.63 L115.22,893.26 L120.2,891.9 L125.18,890.56 L130.16,889.22 L135.14,887.9 L140.12,886.59 L145.1,885.29 L150.08,884.01 L155.06,882.75 L160.03,881.5 L165.01,880.27 L169.99,879.05 L174.97,877.86 L179.95,876.69 L184.93,875.53 L189.91,874.4 L194.89,873.29 L199.87,872.2 L204.85,871.14 L209.83,870.09 L214.81,869.08 L219.79,868.09 L224.77,867.12 L229.75,866.18 L234.73,865.27 L239.71,864.39 L244.69,863.53 L249.67,862.71 L254.65,861.91 L259.63,861.15 L264.61,860.41 L269.59,859.71 L274.57,859.04 L279.54,858.4 L284.52,857.79 L289.5,857.21 L294.48,856.67 L299.46,856.17 L304.44,855.69 L309.42,855.26 L314.4,854.85 L319.38,854.48 L324.36,854.15 L329.34,853.85 L334.32,853.59 L339.3,853.37 L344.28,853.18 L349.26,853.03 L354.24,852.91 L359.22,852.83 L364.2,852.79 L369.18,852.78 L374.16,852.81 L379.14,852.88 L384.12,852.98 L389.1,853.12 L394.08,853.3 L399.06,853.51 L404.03,853.76 L409.01,854.05 L413.99,854.37 L418.97,854.72 L423.95,855.11 L428.93,855.54 L433.91,856 L438.89,856.5 L443.87,857.03 L448.85,857.59 L453.83,858.18 L458.81,858.81 L463.79,859.48 L468.77,860.17 L473.75,860.89 L478.73,861.65 L483.71,862.43 L488.69,863.25 L493.67,864.09 L498.65,864.97 L503.63,865.87 L508.61,866.8 L513.59,867.76 L518.57,868.74 L523.54,869.75 L528.52,870.78 L533.5,871.84 L538.48,872.92 L543.46,874.02 L548.44,875.14 L553.42,876.29 L558.4,877.46 L563.38,878.65 L568.36,879.85 L573.34,881.08 L578.32,882.32 L583.3,883.58 L588.28,884.85 L593.26,886.14 L598.24,887.45 L603.22,888.77 L608.2,890.1 L613.18,891.44 L618.16,892.8 L623.14,894.16 L628.12,895.54 L633.1,896.92 L638.08,898.32 L643.06,899.72 L648.03,901.12 L653.01,902.54 L657.99,903.95 L662.97,905.38 L667.95,906.8 L672.93,908.23 L677.91,909.66 L682.89,911.1 L687.87,912.53 L692.85,913.96 L697.83,915.4 L702.81,916.83 L707.79,918.26 L712.77,919.69 L717.75,921.11 L722.73,922.53 L727.71,923.95 L732.69,925.36 L737.67,926.77 L742.65,928.17 L747.63,929.56 L752.61,930.94 L757.59,932.32 L762.57,933.69 L767.54,935.05 L772.52,936.4 L777.5,937.74 L782.48,939.08 L787.46,940.4 L792.44,941.71 L797.42,943 L802.4,944.29 L807.38,945.56 L812.36,946.83 L817.34,948.07 L822.32,949.31 L827.3,950.53" fill="none" stroke="#00f" stroke-width="2.7" stroke-dasharray="3.1 5.51" stroke-dashoffset="0.15"/>
<g class="t" stroke="#f00" stroke-width="2.502" transform="translate(483.2,753.7) scale(1.1585,1.16)"><use href="#g0" x="0"/><use href="#g1" x="20"/><use href="#g2" x="30"/><use href="#g3" x="50"/><use href="#g4" x="70"/><use href="#g0" x="96"/><use href="#g1" x="116"/><use href="#g6" x="126"/><use href="#g5" x="162"/></g>
<circle cx="709.12" cy="109.3" r="7.5" fill="none" stroke="#f00" stroke-width="2.6"/><circle cx="709.12" cy="109.3" r="2.6" fill="#f00"/>
<circle cx="685.95" cy="425.5" r="7.5" fill="none" stroke="#f00" stroke-width="2.6"/><circle cx="685.95" cy="425.5" r="2.6" fill="#f00"/>
<circle cx="709.12" cy="757.7" r="7.5" fill="none" stroke="#f00" stroke-width="2.6"/><circle cx="709.12" cy="757.7" r="2.6" fill="#f00"/>
<g class="t" stroke="#000" stroke-width="2.521" transform="translate(273.5,1050.55) scale(1.1585,1.142)"><use href="#g7" x="-20"/><use href="#g0" x="0"/></g>
<g class="t" stroke="#000" stroke-width="2.521" transform="translate(483,1050.55) scale(1.1585,1.142)"><use href="#g7" x="-30"/><use href="#g0" x="-10"/><use href="#g0" x="10"/></g>
<g class="t" stroke="#000" stroke-width="2.521" transform="translate(692.5,1050.55) scale(1.1585,1.142)"><use href="#g7" x="-40"/><use href="#g0" x="-20"/><use href="#g0" x="0"/><use href="#g0" x="20"/></g>
<g class="t" stroke="#000" stroke-width="2.521" transform="translate(229.85,1098.25) scale(1.1585,1.142)"><use href="#g8" x="0"/><use href="#g9" x="22"/><use href="#g10" x="33"/><use href="#g11" x="55"/><use href="#g12" x="75"/><use href="#g13" x="92"/><use href="#g14" x="127"/><use href="#g15" x="147"/><use href="#g16" x="166"/><use href="#g11" x="187"/><use href="#g12" x="207"/><use href="#g11" x="224"/><use href="#g17" x="244"/><use href="#g9" x="259"/><use href="#g18" x="270"/><use href="#g10" x="290"/><use href="#g19" x="328"/><use href="#g20" x="342"/><use href="#g21" x="362"/><use href="#g22" x="386"/></g>
<g class="t" stroke="#000" stroke-width="2.502" transform="translate(74.15,26.4) rotate(-90) scale(1.1585,1.16)"><use href="#g0" x="-25"/><use href="#g1" x="-5"/><use href="#g2" x="5"/></g>
<g class="t" stroke="#000" stroke-width="2.502" transform="translate(74.15,184.7) rotate(-90) scale(1.1585,1.16)"><use href="#g0" x="-25"/><use href="#g1" x="-5"/><use href="#g7" x="5"/></g>
<g class="t" stroke="#000" stroke-width="2.502" transform="translate(74.15,421.7) rotate(-90) scale(1.1585,1.16)"><use href="#g0" x="-25"/><use href="#g1" x="-5"/><use href="#g2" x="5"/></g>
<g class="t" stroke="#000" stroke-width="2.502" transform="translate(74.15,547.8) rotate(-90) scale(1.1585,1.16)"><use href="#g0" x="-25"/><use href="#g1" x="-5"/><use href="#g7" x="5"/></g>
<g class="t" stroke="#000" stroke-width="2.502" transform="translate(74.15,690.6) rotate(-90) scale(1.1585,1.16)"><use href="#g0" x="-25"/><use href="#g1" x="-5"/><use href="#g23" x="5"/></g>
<g class="t" stroke="#000" stroke-width="2.502" transform="translate(74.15,795.7) rotate(-90) scale(1.1585,1.16)"><use href="#g0" x="-25"/><use href="#g1" x="-5"/><use href="#g2" x="5"/></g>
<g class="t" stroke="#000" stroke-width="2.502" transform="translate(74.15,900.5) rotate(-90) scale(1.1585,1.16)"><use href="#g0" x="-25"/><use href="#g1" x="-5"/><use href="#g7" x="5"/></g>
<g class="t" stroke="#000" stroke-width="2.502" transform="translate(26.65,663.9) rotate(-90) scale(1.1585,1.16)"><use href="#g8" x="0"/><use href="#g9" x="22"/><use href="#g10" x="33"/><use href="#g11" x="55"/><use href="#g12" x="75"/><use href="#g13" x="92"/><use href="#g24" x="127"/><use href="#g12" x="147"/><use href="#g11" x="164"/><use href="#g25" x="184"/><use href="#g17" x="203"/><use href="#g9" x="218"/><use href="#g18" x="229"/><use href="#g10" x="249"/></g></svg></body></html>
